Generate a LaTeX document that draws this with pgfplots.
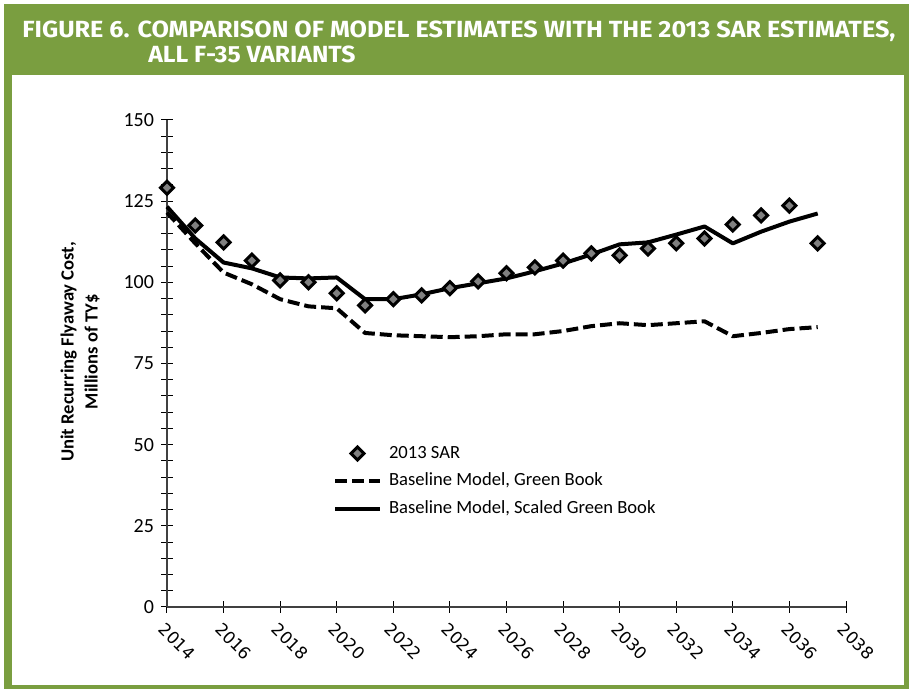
\documentclass[border=0pt]{standalone}
\usepackage{fontspec}
\setmainfont{Carlito}
\newfontfamily\titlefont{Fira Sans}
\newfontfamily\tickfont{DejaVu Sans}
\usepackage{pgfplots}
\pgfplotsset{compat=1.18}
\definecolor{frameGreen}{RGB}{122,158,64}
\begin{document}
\begin{tikzpicture}
\useasboundingbox (0,0) rectangle (455.5pt,344.5pt);
\fill[white] (0,0) rectangle (455.5pt,344.5pt);
\fill[frameGreen] (2pt,0pt) rectangle (454.5pt,342.5pt);
\fill[white] (6pt,2pt) rectangle (452pt,307pt);
\node[anchor=base west, inner sep=0pt, text=white] at (11pt,325.5pt)
  {\resizebox{436.5pt}{8.3pt}{\titlefont\bfseries\fontsize{11.6}{12}\selectfont FIGURE 6. COMPARISON OF MODEL ESTIMATES WITH THE 2013 SAR ESTIMATES,}};
\node[anchor=base west, inner sep=0pt, text=white] at (74pt,313pt)
  {\resizebox{103.5pt}{8.3pt}{\titlefont\bfseries\fontsize{11.6}{12}\selectfont ALL F-35 VARIANTS}};
\begin{axis}[
  at={(83.5pt,41pt)}, anchor=south west,
  scale only axis, width=339.5pt, height=243.5pt,
  xmin=2014, xmax=2038, ymin=0, ymax=150,
  clip=false,
  axis x line=bottom, axis y line=left,
  axis line style={-, draw=black!75, line width=0.6pt},
  tick style={black, line width=0.5pt},
  tick align=center, major tick length=6pt, minor tick length=6pt,
  xtick={2014,2016,...,2038}, minor x tick num=1,
  ytick={0,25,...,150}, minor y tick num=4,
  /pgf/number format/assume math mode=true,
  x tick label style={/pgf/number format/1000 sep={}},
  xticklabel style={font=\tickfont\fontsize{8.4}{10}\selectfont, rotate=-45, anchor=north west, inner sep=0pt, xshift=2.7pt, yshift=-3.1pt},
  yticklabel style={font=\fontsize{10}{12}\selectfont},
  ylabel={Unit Recurring Flyaway Cost,\\Millions of TY\$},
  ylabel style={at={(axis description cs:-0.128,0.524)}, anchor=center, align=center, font=\bfseries\fontsize{9.3}{12}\selectfont},
  legend image code/.code={\draw[mark repeat=2,mark phase=2,#1] plot coordinates {(0pt,0pt) (11.25pt,0pt) (22.5pt,0pt)};},
  legend cell align=left,
  legend style={draw=none, fill=none, at={(axis description cs:0.2445,0.3326)}, anchor=north west,
    inner sep=0pt, outer sep=0pt, row sep=5.25pt, column sep=3.5pt,
    font=\fontsize{9.3}{11}\selectfont,
    nodes={inner sep=0pt, text height=6.5pt, text depth=2pt}},
]
\addplot[only marks, mark=square*, mark size=2.3pt, mark options={rotate=45, fill=gray, draw=black, line width=1.5pt}] coordinates {
(2014,129.1) (2015,117.5) (2016,112.3) (2017,106.7) (2018,100.6) (2019,100.0)
(2020,96.6) (2021,92.9) (2022,94.8) (2023,96.0) (2024,98.2) (2025,100.3)
(2026,102.8) (2027,104.6) (2028,106.7) (2029,108.9) (2030,108.3) (2031,110.4)
(2032,112.0) (2033,113.5) (2034,117.8) (2035,120.6) (2036,123.6) (2037,112.0)
};
\addlegendentry{2013 SAR}
\addplot[black, line width=2pt, line join=round, dash pattern=on 6pt off 2.5pt] coordinates {
(2014,121.5) (2015,112) (2016,103) (2017,99.4) (2018,94.8) (2019,92.6)
(2020,92.0) (2021,84.4) (2022,83.7) (2023,83.4) (2024,83.1) (2025,83.4)
(2026,84.0) (2027,84.0) (2028,85.0) (2029,86.5) (2030,87.4) (2031,86.8)
(2032,87.4) (2033,88.0) (2034,83.4) (2035,84.4) (2036,85.6) (2037,86.2)
};
\addlegendentry{Baseline Model, Green Book}
\addplot[black, line width=2pt, line join=round] coordinates {
(2014,123.3) (2015,113.5) (2016,106.1) (2017,104.3) (2018,101.5) (2019,101.2)
(2020,101.5) (2021,94.8) (2022,94.8) (2023,96.3) (2024,98.2) (2025,99.7)
(2026,101.2) (2027,103.4) (2028,105.8) (2029,108.6) (2030,111.7) (2031,112.3)
(2032,114.7) (2033,117.2) (2034,112.0) (2035,115.6) (2036,118.7) (2037,121.2)
};
\addlegendentry{Baseline Model, Scaled Green Book}
\end{axis}
\end{tikzpicture}
\end{document}
